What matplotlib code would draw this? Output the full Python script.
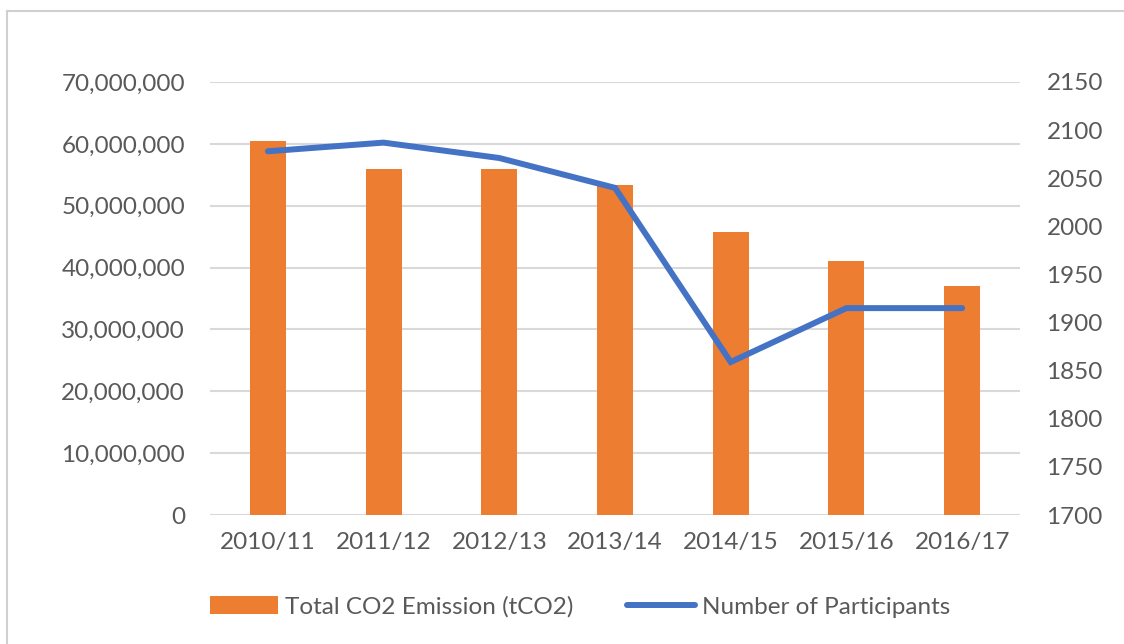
import matplotlib
matplotlib.use("Agg")
import matplotlib.pyplot as plt
from matplotlib.ticker import FuncFormatter, FixedLocator
from matplotlib.lines import Line2D
from matplotlib.patches import Patch

categories = ["2010/11", "2011/12", "2012/13", "2013/14", "2014/15", "2015/16", "2016/17"]
emissions = [60.4e6, 56.0e6, 56.0e6, 53.3e6, 45.75e6, 41.1e6, 37.0e6]
participants = [2078, 2087, 2071, 2040, 1859, 1915, 1915]

left_ticks = [0, 10e6, 20e6, 30e6, 40e6, 50e6, 60e6, 70e6]
right_ticks = [1700, 1750, 1800, 1850, 1900, 1950, 2000, 2050, 2100, 2150]

orange = "#ED7D31"
blue = "#4472C4"
grid_c = "#D9D9D9"
text_c = "#595959"
fs = 17.5

plt.rcParams['font.family'] = ['Lato', 'DejaVu Sans']

fig = plt.figure(figsize=(11.24, 6.44), dpi=100)
ax = fig.add_axes([210/1124, 1 - 515/644, 810/1124, 433/644])
x = list(range(len(categories)))
ax.bar(x, emissions, width=0.31, color=orange, zorder=2)
ax.set_xlim(-0.5, len(categories) - 0.5)
ax.set_ylim(0, 70e6)
ax.yaxis.set_major_locator(FixedLocator(left_ticks))
ax.yaxis.set_major_formatter(FuncFormatter(lambda v, p: f"{int(round(v)):,}"))
ax.grid(axis='y', color=grid_c, lw=1.5, zorder=0)
ax.set_axisbelow(True)
for s in ax.spines.values():
    s.set_visible(False)
ax.tick_params(axis='both', length=0, labelsize=fs, colors=text_c)
ax.tick_params(axis='y', pad=18)
ax.tick_params(axis='x', pad=12)
ax.set_xticks(x)
ax.set_xticklabels(categories)

ax2 = ax.twinx()
ax2.plot(x, participants, color=blue, lw=4.3, solid_capstyle='round', solid_joinstyle='miter', zorder=3)
ax2.set_ylim(1700, 2150)
ax2.yaxis.set_major_locator(FixedLocator(right_ticks))
for s in ax2.spines.values():
    s.set_visible(False)
ax2.tick_params(axis='y', length=0, labelsize=fs, colors=text_c, pad=19)

handles = [Patch(facecolor=orange, edgecolor='none'),
           Line2D([0], [0], color=blue, lw=4.3, solid_capstyle='round')]
fig.legend(handles, ["Total CO2 Emission (tCO2)", "Number of Participants"],
           loc='center', bbox_to_anchor=(580/1124, 1 - 607/644), ncol=2, frameon=False,
           fontsize=fs, labelcolor=text_c, handlelength=2.8, handleheight=0.75,
           handletextpad=0.3, columnspacing=2.2)

fig.add_artist(Line2D([7/1124, 1], [1 - 11/644, 1 - 11/644], color="#D0D0D0", lw=1.5, transform=fig.transFigure))
fig.add_artist(Line2D([7/1124, 7/1124], [0, 1 - 11/644], color="#D0D0D0", lw=1.5, transform=fig.transFigure))

fig.savefig("out.png", dpi=100, facecolor="white")
